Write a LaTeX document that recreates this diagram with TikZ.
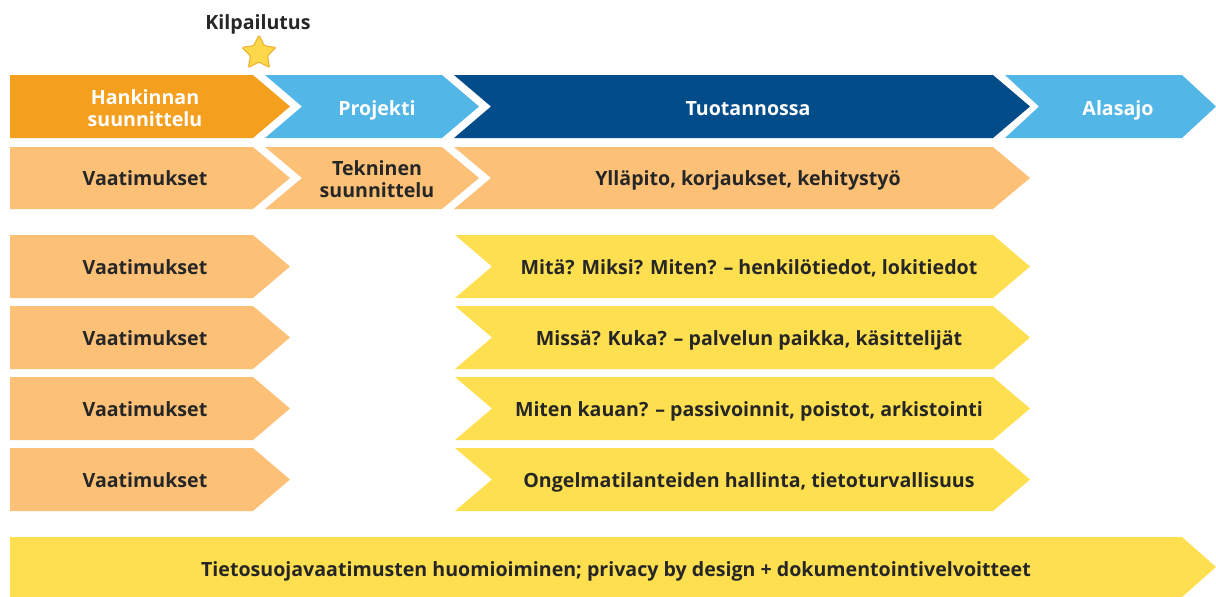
\documentclass[tikz,border=0pt]{standalone}
\usepackage{fontspec}
\setmainfont{Open Sans}
\usetikzlibrary{shapes.geometric}
\definecolor{cOrange}{HTML}{F59F1F}
\definecolor{cLBlue}{HTML}{52B6E7}
\definecolor{cDBlue}{HTML}{014C89}
\definecolor{cPeach}{HTML}{FCC177}
\definecolor{cYellow}{HTML}{FDDF4F}
\definecolor{cText}{HTML}{262626}
\definecolor{cStar}{HTML}{FDD84A}
\definecolor{cStarEdge}{HTML}{EFAE2C}
% plain chevron: x0, x1, ytop, ybottom, depth, colour
\newcommand\mychevA[6]{%
  \fill[#6] (#1,#3) -- (#2,#3) -- ({#2+#5},{(#3+#4)/2}) -- (#2,#4) -- (#1,#4) -- cycle;}
% notched chevron
\newcommand\mychevB[6]{%
  \fill[#6] (#1,#3) -- (#2,#3) -- ({#2+#5},{(#3+#4)/2}) -- (#2,#4) -- (#1,#4) -- ({#1+#5},{(#3+#4)/2}) -- cycle;}
\begin{document}
\begin{tikzpicture}[x=1pt,y=-1pt,
  lbl/.style={font=\fontsize{19.6}{21.5}\selectfont\bfseries, text=cText, align=center, inner sep=0},
  wlbl/.style={lbl, text=white},
  bl/.style={anchor=base}]
\useasboundingbox (0,0) rectangle (1216,597);
% row 1
\mychevA{10}{253}{75}{138}{37}{cOrange}
\mychevB{265}{442}{75}{138}{37}{cLBlue}
\mychevB{454}{993}{75}{138}{37}{cDBlue}
\mychevB{1005}{1182}{75}{138}{34}{cLBlue}
% row 2
\mychevA{10}{253}{147}{209}{37}{cPeach}
\mychevB{265}{442}{147}{209}{37}{cPeach}
\mychevB{454}{993}{147}{209}{37}{cPeach}
% rows 3-6
\foreach \t in {235,306,377,448}{
  \mychevA{10}{253}{\t}{\t+63}{37}{cPeach}
  \mychevB{455}{993}{\t}{\t+63}{37}{cYellow}
}
% bottom
\mychevA{10}{1182}{537}{597}{34}{cYellow}

\node[star, star points=5, star point ratio=2.0, minimum size=36pt, inner sep=0,
      fill=cStar, draw=cStarEdge, line width=1pt, rounded corners=1.2pt] (star) at (259,53) {};
\node[lbl, bl] (kil) at (258,29) {Kilpailutus};

\node[wlbl] (han) at (145,108) {Hankinnan\\suunnittelu};
\node[wlbl, bl] (pro) at (377,115) {Projekti};
\node[wlbl, bl] (tuo) at (748,115) {Tuotannossa};
\node[wlbl, bl] (ala) at (1118,115) {Alasajo};

\node[lbl, bl] (v1) at (145,185) {Vaatimukset};
\node[lbl] (tek) at (377,179) {Tekninen\\suunnittelu};
\node[lbl, bl] (yll) at (748,185.5) {Ylläpito, korjaukset, kehitystyö};

\node[lbl, bl] (v2) at (145,274) {Vaatimukset};
\node[lbl, bl] (m1) at (749,274) {Mitä? Miksi? Miten? – henkilötiedot, lokitiedot};
\node[lbl, bl] (v3) at (145,345) {Vaatimukset};
\node[lbl, bl] (m2) at (749,345) {Missä? Kuka? – palvelun paikka, käsittelijät};
\node[lbl, bl] (v4) at (145,416) {Vaatimukset};
\node[lbl, bl] (m3) at (749,416) {Miten kauan? – passivoinnit, poistot, arkistointi};
\node[lbl, bl] (v5) at (145,487) {Vaatimukset};
\node[lbl, bl] (m4) at (749,487) {Ongelmatilanteiden hallinta, tietoturvallisuus};

\node[lbl, bl] (bot) at (616,576) {Tietosuojavaatimusten huomioiminen; privacy by design + dokumentointivelvoitteet};
\end{tikzpicture}
\end{document}
